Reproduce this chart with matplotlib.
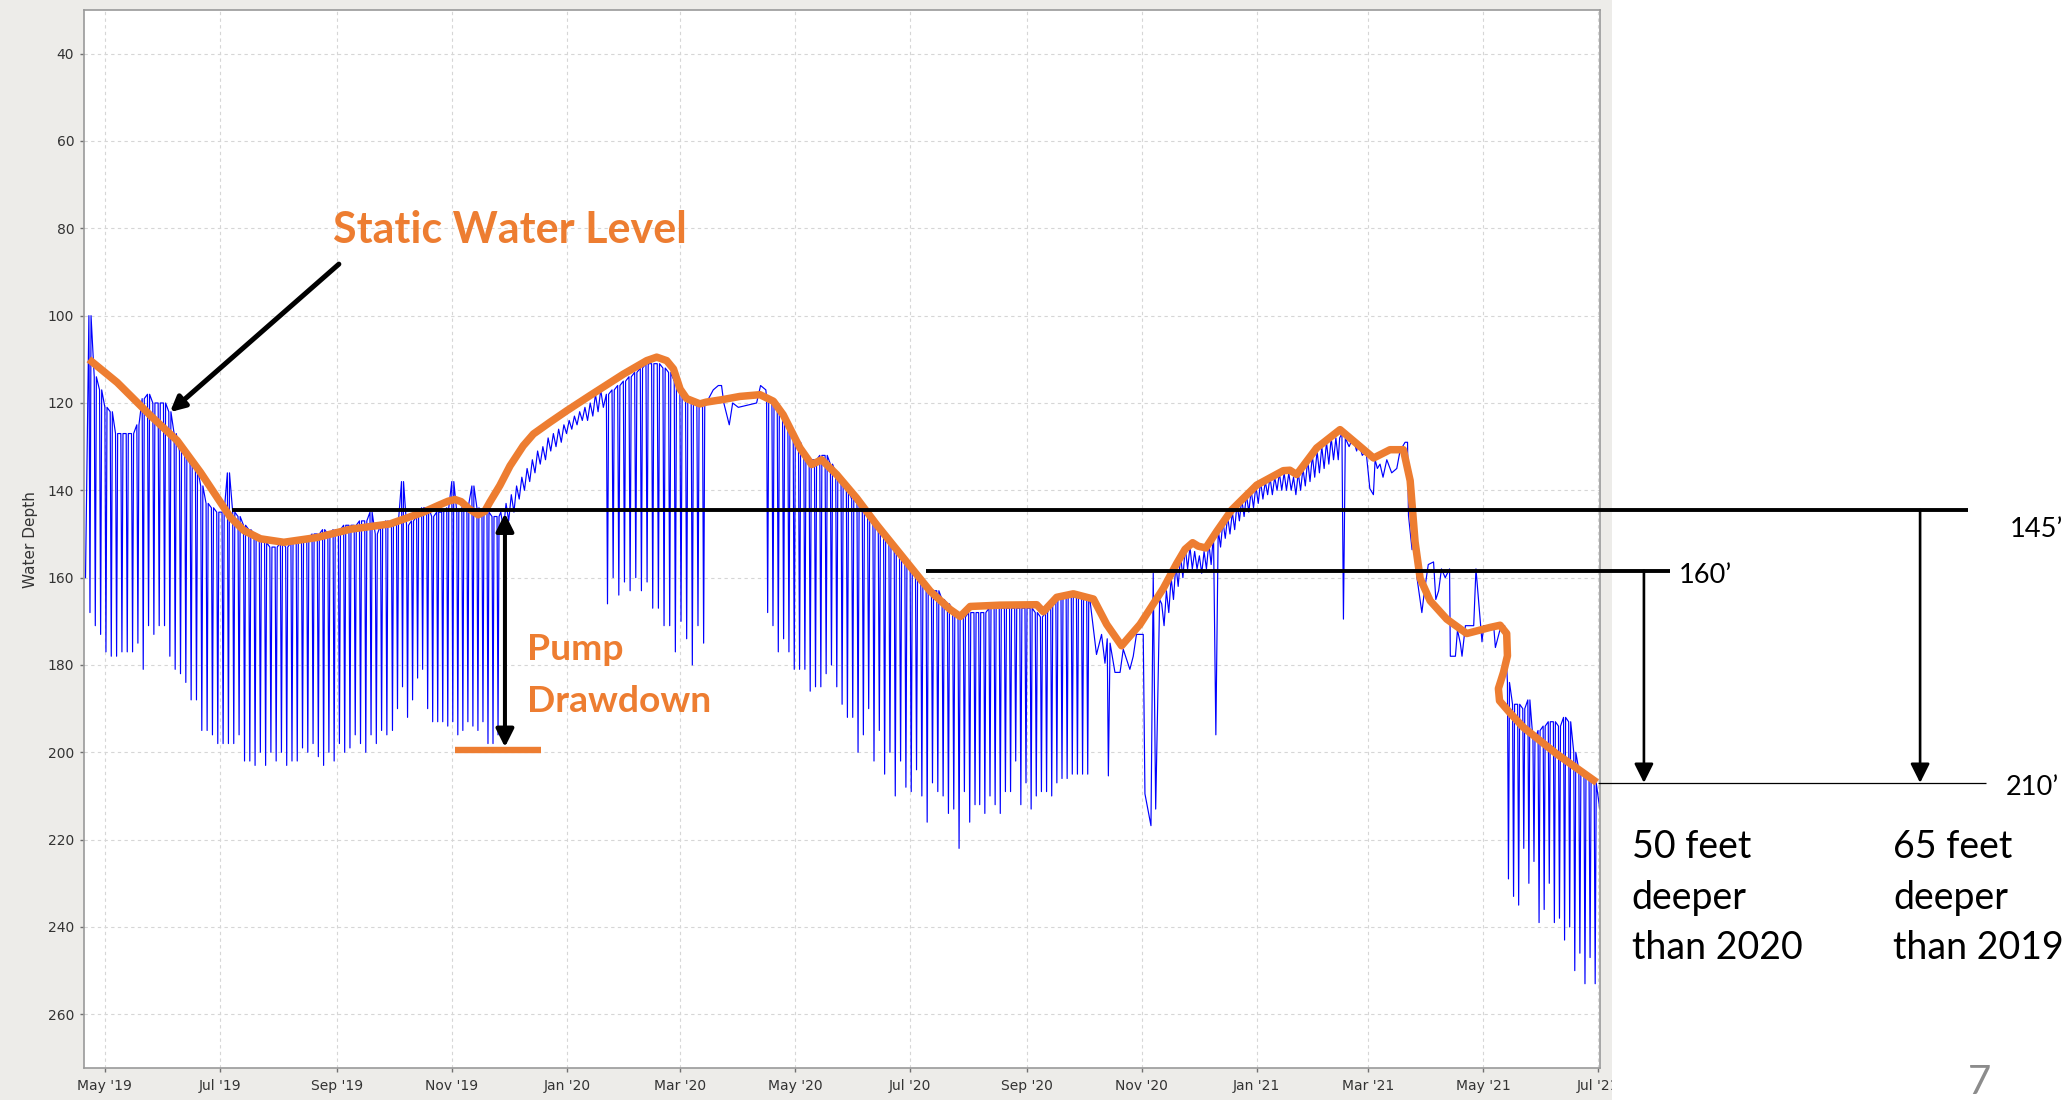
import numpy as np
import matplotlib
matplotlib.use("Agg")
import matplotlib.pyplot as plt
import matplotlib.dates as mdates
from matplotlib.patches import Rectangle
from matplotlib.transforms import Bbox, TransformedBbox

W, H = 2069, 1100
ORANGE = "#ED7D31"
BLUE = "#0000FF"
PANEL = "#EDECE9"
SLIDE_FONT = ["Lato", "DejaVu Sans"]
CHART_FONT = ["DejaVu Sans"]

# day offsets are counted from 1 May 2019
DAY0 = "2019-05-01"

TICK_DATES = ["2019-05-01", "2019-07-01", "2019-09-01", "2019-11-01", "2020-01-01",
              "2020-03-01", "2020-05-01", "2020-07-01", "2020-09-01", "2020-11-01",
              "2021-01-01", "2021-03-01", "2021-05-01", "2021-07-01"]
TICK_LABELS = ["May '19", "Jul '19", "Sep '19", "Nov '19", "Jan '20", "Mar '20", "May '20",
               "Jul '20", "Sep '20", "Nov '20", "Jan '21", "Mar '21", "May '21", "Jul '21"]
DEPTH_TICKS = [40, 60, 80, 100, 120, 140, 160, 180, 200, 220, 240, 260]

# --- measured well record (blue), pumping cycles: recovered level / pumping level
P1_SPAN = (-8.5, 70.6)
P1_TOP = [100, 114, 117, 121, 122, 127, 127, 127, 127, 125, 119, 118, 120, 120, 120,
          122, 127, 131, 132, 134, 135, 139, 143, 144, 145, 145, 136, 145, 146]
P1_LOW = [168, 171, 173, 177, 178, 178, 177, 177, 177, 175, 181, 171, 173, 171, 171,
          178, 181, 182, 184, 188, 188, 195, 195, 196, 198, 198, 198, 198, 196]

P2_SPAN = (73.5, 149)
P2_TOP = [148, 149, 150, 151, 152, 153, 153, 152, 153, 152, 152, 151, 151, 150, 150,
          149, 150, 149, 149, 148, 148, 148, 147, 147, 145, 150, 148, 147]
P2_LOW = [202, 202, 203, 200, 203, 200, 202, 200, 203, 202, 202, 199, 200, 198, 201,
          203, 200, 202, 198, 200, 199, 196, 198, 200, 196, 198, 195, 196]

P3_SPAN = (152, 208)
P3_TOP = [148, 147, 138, 148, 147, 146, 144, 144, 146, 145, 145, 144, 138, 145, 144,
          143, 139, 144, 145, 145, 146, 146]
P3_LOW = [195, 190, 185, 192, 188, 183, 181, 190, 193, 193, 193, 194, 193, 196, 195,
          193, 194, 195, 193, 198, 198, 196]

P4_SPAN = (210, 263)
P4_TOP = [145, 143, 141, 139, 137, 135, 133, 131, 130, 128, 127, 126, 125, 124, 123,
          122, 121, 120, 118, 117]
P4_LOW = [149, 147, 145, 142, 140, 138, 136, 134, 133, 131, 130, 129, 127, 126, 125,
          124, 124, 123, 122, 121]

P5_SPAN = (266, 317)
P5_TOP = [118, 117, 116, 115, 114, 113, 112, 111, 111, 111, 112, 113, 115, 118, 119,
          120, 120, 120]
P5_LOW = [166, 160, 164, 161, 163, 160, 163, 161, 167, 167, 171, 171, 177, 170, 174,
          180, 171, 175]

P6_DAYS = [319, 322.7, 325.4, 327.1, 328.3, 331.2, 333, 336, 345.7, 347.8, 350.6]
P6_DEPTH = [120, 117, 116, 116, 120, 125, 120, 121, 120, 116, 117]

P7_SPAN = (351, 461)
P7_TOP = [119, 120, 121, 123, 125, 127, 129, 132, 133, 133, 132, 132, 134, 136, 138,
          140, 142, 143, 145, 146, 148, 149, 150, 152, 153, 155, 156, 158, 159, 161,
          162, 163, 163, 165, 166, 168, 169, 169, 168, 168]
P7_LOW = [168, 171, 177, 174, 177, 181, 181, 181, 186, 185, 185, 182, 180, 185, 189,
          192, 192, 200, 196, 190, 202, 195, 205, 200, 210, 202, 208, 209, 204, 210,
          216, 207, 209, 210, 214, 213, 222, 209, 216, 212]

P8_SPAN = (463.5, 520.8)
P8_TOP = [168, 168, 167, 167, 167, 167, 167, 167, 167, 167, 167, 168, 169, 168, 166,
          165, 164, 164, 164, 164, 164, 165]
P8_LOW = [212, 214, 210, 212, 214, 209, 209, 202, 212, 207, 213, 210, 209, 209, 210,
          207, 206, 206, 205, 205, 205, 205]

P9_DAYS = [522.5, 526, 528.7, 530.5, 531.7, 532.3, 533.2, 535.8, 538.5, 540.2, 543.7,
           545.5, 547.2, 550.8, 551.7, 554.9, 556.1, 557.4, 559.5]
P9_DEPTH = [165, 177.6, 173, 179.6, 174, 205.4, 175, 181.7, 181.7, 176.4, 181, 178,
            173, 173, 209.5, 216.8, 159, 213, 165]

P10_SPAN = (560.6, 653)
P10_TOP = [166, 163, 160, 157, 155, 153, 153, 154, 155, 154, 152, 150, 149, 147, 146,
           145, 143, 142, 141, 140, 139, 138, 138, 137, 137, 136, 136, 136, 137, 136,
           135, 133, 132, 131, 130, 129, 128, 128]
P10_LOW = [171, 168, 165, 162, 160, 158, 158, 158, 159, 158, 157, 196, 153, 151, 150,
           149, 147, 146, 145, 144, 143, 142, 141, 141, 140, 140, 140, 140, 141, 140,
           139, 138, 137, 136, 135, 134, 133, 133]

P11_DAYS = [655, 656.2, 657, 658, 660, 662, 664, 665, 667, 669, 671, 672.9, 673.8, 675,
            676.4, 678, 680, 682.6, 685.3, 687, 689.7]
P11_DEPTH = [128, 127, 169.5, 128, 130, 128, 131, 129, 132, 131, 139.6, 141, 133, 135,
             134, 137, 133, 136, 135, 131, 129]

P12_DAYS = [691, 691.5, 693.4, 694.5, 696, 698.6, 700, 702, 704.8, 706, 707.5, 709, 711,
            713.3, 713.7, 716.4, 717.5, 719, 719.9, 721.7, 726.1, 727.3, 730.5, 731.4,
            736.7, 737.6, 740, 742.5]
P12_DEPTH = [129, 145.7, 153.6, 146, 160, 168, 163, 157, 156.4, 165, 163, 158, 160, 158,
             178, 178, 172, 175, 178, 171, 171, 158, 174.7, 171, 171, 176, 172, 171]

P13_SPAN = (744, 790)
P13_TOP = [184, 189, 189, 190, 188, 197, 195, 194, 193, 193, 194, 192, 193, 200, 204,
           205, 206, 207]
P13_LOW = [229, 233, 235, 222, 230, 225, 239, 236, 230, 239, 238, 243, 240, 250, 246,
           253, 247, 253]

TRACE_START = (-10.3, 160)
TRACE_END = (793, 213)

# --- hand-drawn static water level (orange)
SWL_DAYS = [-8.5, 6.5, 24.2, 38.3, 50.7, 59.5, 66.6, 73.7, 82.5, 94.9, 112.6, 130.3,
            151.2, 168.9, 177.7, 182, 185.7, 189, 193, 198, 201.5, 204.2, 209.5, 214.9,
            221.9, 227.3, 236.1, 244.9, 257.3, 275, 287.4, 292.7, 298, 301.6, 305.1,
            308.6, 315.6, 319, 328, 336.8, 347.5, 354.6, 359.8, 368.7, 374.9, 380.2,
            388.2, 398.8, 409.4, 423.6, 437.8, 448.4, 453.7, 459, 474.9, 494.3, 497.8,
            504.9, 513.7, 524.4, 531.4, 539.3, 549.1, 561.4, 568.5, 573, 577, 580, 584,
            589.8, 597.7, 611, 625.1, 628.6, 632.2, 642.8, 655.2, 664, 673, 681.7, 688.8,
            692.4, 695, 697.7, 703, 711.8, 722.4, 734.8, 740.1, 743.6, 744, 741.9, 739.2,
            739.8, 745.4, 752.5, 770.2, 791.4]
SWL_DEPTH = [110, 115.3, 122.9, 128.6, 135.9, 141.6, 146.2, 149.2, 151.1, 151.9, 150.8,
             148.9, 147.7, 145, 143.3, 142.5, 142.1, 142.6, 144.2, 145.6, 144.8, 142.7,
             138.9, 134.4, 129.8, 127.1, 124.4, 121.8, 118.3, 113.4, 110.3, 109.5, 110.3,
             112.2, 116.8, 119, 120.2, 119.8, 119.2, 118.5, 118.1, 119.6, 122.7, 130.3,
             134.1, 133, 136.4, 141.8, 147.9, 155.5, 163.1, 167.3, 168.9, 166.6, 166.3,
             166.2, 167.8, 164.5, 163.7, 164.9, 170.7, 175.6, 170.7, 162.5, 156.8, 153.5,
             152, 152.8, 153.2, 149.4, 144.5, 138.8, 135.5, 135.4, 136.4, 130.3, 126.1,
             129.3, 132.6, 130.7, 130.7, 137.8, 151.8, 160.2, 165.3, 169.5, 172.8, 171.4,
             170.9, 172.8, 177.9, 181.7, 185.4, 188.2, 191, 194.3, 200.4, 206.9]

# --- annotation levels (ft)
LEVEL_2019 = 144.5
LEVEL_2020 = 158.4
LEVEL_2021 = 207
DRAWDOWN_BOTTOM = 199.4


def px(x):
    return x / W


def py(y):
    return 1 - y / H


def spikes(span, tops, lows, saw=False):
    t = np.linspace(span[0], span[1], len(tops))
    step = (span[1] - span[0]) / (len(tops) - 1)
    xs, ys = [], []
    for ti, top, low in zip(t, tops, lows):
        if saw:
            xs += [ti, ti + 0.5 * step]
            ys += [top, low]
        else:
            xs += [ti, ti + 0.2 * step, ti + 0.4 * step]
            ys += [top, low, top]
    return xs, ys


def build_trace():
    xs, ys = [TRACE_START[0]], [TRACE_START[1]]
    parts = [
        spikes(P1_SPAN, P1_TOP, P1_LOW),
        spikes(P2_SPAN, P2_TOP, P2_LOW),
        spikes(P3_SPAN, P3_TOP, P3_LOW),
        spikes(P4_SPAN, P4_TOP, P4_LOW, saw=True),
        spikes(P5_SPAN, P5_TOP, P5_LOW),
        (P6_DAYS, P6_DEPTH),
        spikes(P7_SPAN, P7_TOP, P7_LOW),
        spikes(P8_SPAN, P8_TOP, P8_LOW),
        (P9_DAYS, P9_DEPTH),
        spikes(P10_SPAN, P10_TOP, P10_LOW, saw=True),
        (P11_DAYS, P11_DEPTH),
        (P12_DAYS, P12_DEPTH),
        spikes(P13_SPAN, P13_TOP, P13_LOW),
    ]
    for px_, py_ in parts:
        xs += list(px_)
        ys += list(py_)
    xs.append(TRACE_END[0])
    ys.append(TRACE_END[1])
    return np.array(xs), np.array(ys)


base = mdates.date2num(np.datetime64(DAY0))

fig = plt.figure(figsize=(W / 100, H / 100), dpi=100)
fig.patch.set_facecolor("white")
fig.patches.append(Rectangle((0, 0), px(1612), 1, transform=fig.transFigure,
                             facecolor=PANEL, edgecolor="none", zorder=-10))

ax = fig.add_axes([px(84), 1 - 1068 / H, px(1516), 1058 / H])
ax.set_zorder(1)
ax.set_facecolor("white")

tx, ty = build_trace()
ax.plot(base + tx, ty, color=BLUE, lw=0.85, zorder=2)
ax.plot(base + np.array(SWL_DAYS), SWL_DEPTH, color=ORANGE, lw=5.4,
        solid_joinstyle="round", solid_capstyle="butt", zorder=4)

ax.set_xlim(base - 11.1, base + 793.1)
ax.set_ylim(272.3, 30)
tick_pos = [mdates.date2num(np.datetime64(d)) for d in TICK_DATES]
ax.set_xticks(tick_pos)
ax.set_xticklabels(TICK_LABELS)
ax.set_yticks(DEPTH_TICKS)
ax.grid(True, color="#D6D6D6", lw=0.8, linestyle=(0, (3, 3)))
ax.set_axisbelow(True)
for s in ax.spines.values():
    s.set_color("#9A9A9A")
    s.set_linewidth(1.2)
ax.tick_params(axis="both", length=3, width=1, color="#707070", labelsize=10,
               labelcolor="#333333")
ax.tick_params(axis="x", pad=5)
ax.tick_params(axis="y", pad=4)
for lbl in ax.get_xticklabels() + ax.get_yticklabels():
    lbl.set_family(CHART_FONT)
clip = TransformedBbox(Bbox([[0, 0], [px(1612), 1]]), fig.transFigure)
for lbl in ax.get_xticklabels():
    lbl.set_clip_box(clip)
    lbl.set_clip_on(True)
fig.text(px(30), py(540), "Water Depth", rotation=90, ha="center", va="center",
         fontsize=11, color="#333333", family=CHART_FONT)

# --- annotations
d = lambda day: base + day
black_line = dict(color="black", clip_on=False, zorder=5, solid_capstyle="butt")
ax.plot([d(67.5), d(988.2)], [LEVEL_2019, LEVEL_2019], lw=2.8, **black_line)
ax.plot([d(435.5), d(830.2)], [LEVEL_2020, LEVEL_2020], lw=2.8, **black_line)
ax.plot([d(792), d(997.9)], [LEVEL_2021, LEVEL_2021], lw=0.9, **black_line)
ax.plot([d(185.7), d(231.3)], [DRAWDOWN_BOTTOM, DRAWDOWN_BOTTOM], color=ORANGE,
        lw=4.6, solid_capstyle="butt", zorder=5)

ax.annotate("", xy=(d(34.5), 122.1), xytext=(d(124.1), 88.2),
            arrowprops=dict(arrowstyle="-|>", lw=3.6, color="black",
                            mutation_scale=22, shrinkA=0, shrinkB=0),
            annotation_clip=False, zorder=6)
ax.annotate("", xy=(d(212.2), 145.3), xytext=(d(212.2), 198.8),
            arrowprops=dict(arrowstyle="<|-|>", lw=2.9, color="black",
                            mutation_scale=27, shrinkA=0, shrinkB=0),
            annotation_clip=False, zorder=6)
for x0, y0 in [(816.4, LEVEL_2020), (962.9, LEVEL_2019)]:
    ax.annotate("", xy=(d(x0), LEVEL_2021), xytext=(d(x0), y0),
                arrowprops=dict(arrowstyle="-|>", lw=1.9, color="black",
                                mutation_scale=29, shrinkA=0, shrinkB=0),
                annotation_clip=False, zorder=6)

fig.text(px(333), py(242.7), "Static Water Level", color=ORANGE, fontsize=31,
         fontweight="bold", family=SLIDE_FONT, ha="left", va="baseline")
for i, line in enumerate(["Pump", "Drawdown"]):
    fig.text(px(526.7), py(660 + 51.7 * i), line, color=ORANGE, fontsize=26.8,
             fontweight="bold", family=SLIDE_FONT, ha="left", va="baseline")

fig.text(px(2010), py(536.7), "145\u2019", fontsize=19.6, family=SLIDE_FONT,
         ha="left", va="baseline")
fig.text(px(1678.3), py(583.3), "160\u2019", fontsize=19.6, family=SLIDE_FONT,
         ha="left", va="baseline")
fig.text(px(2006), py(795), "210\u2019", fontsize=19.6, family=SLIDE_FONT,
         ha="left", va="baseline")
for xl, lines in [(1631.7, ["50 feet", "deeper", "than 2020"]),
                  (1893.3, ["65 feet", "deeper", "than 2019"])]:
    for i, line in enumerate(lines):
        fig.text(px(xl), py(858.3 + 50.4 * i), line, fontsize=27, family=SLIDE_FONT,
                 ha="left", va="baseline")

fig.text(px(1980), py(1094), "7", fontsize=29, color="#8C8C8C", family=SLIDE_FONT,
         ha="center", va="baseline")

fig.savefig("out.png", dpi=100, facecolor=fig.get_facecolor())
